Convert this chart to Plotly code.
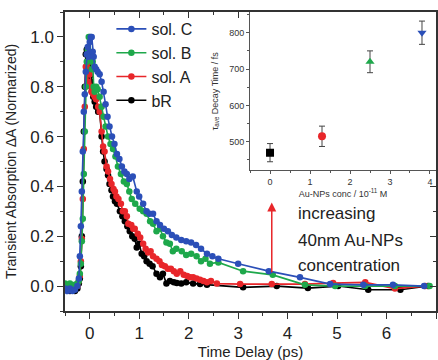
import plotly.graph_objects as go

# ---------------- main panel data ----------------
t_C = [-0.5,-0.45,-0.4,-0.35,-0.3,-0.25,-0.22,-0.2,-0.18,-0.16,
       -0.14,-0.12,-0.1,-0.08,-0.06,-0.04,-0.02,0.0,0.02,0.04,
       0.06,0.08,0.1,0.13,0.16,0.2,0.24,0.28,0.32,0.36,
       0.4,0.45,0.5,0.55,0.6,0.65,0.7,0.75,0.8,0.87,
       0.95,1.0,1.08,1.15,1.21,1.28,1.35,1.42,1.5,1.58,
       1.66,1.75,1.85,1.95,2.05,2.15,2.25,2.37,2.48,2.6,
       3.0,3.62,4.25,4.86,5.53,6.13,6.76]
y_C = [-0.01,-0.02,-0.01,-0.02,-0.015,0.0,0.03,0.12,0.24,0.38,
       0.54,0.70,0.77,0.86,0.93,0.96,0.92,0.98,1.0,1.0,
       0.94,0.92,0.88,0.87,0.86,0.85,0.82,0.78,0.73,0.68,
       0.64,0.60,0.57,0.53,0.51,0.48,0.46,0.45,0.43,0.44,
       0.38,0.36,0.33,0.30,0.29,0.29,0.26,0.245,0.23,0.22,
       0.205,0.195,0.185,0.18,0.175,0.165,0.15,0.13,0.12,0.11,
       0.09,0.06,0.035,0.008,0.005,0.005,0.0]

t_B = [-0.5,-0.45,-0.4,-0.35,-0.3,-0.25,-0.22,-0.2,-0.18,-0.16,
       -0.14,-0.12,-0.1,-0.08,-0.06,-0.04,-0.02,0.0,0.02,0.04,
       0.06,0.08,0.1,0.13,0.16,0.2,0.24,0.28,0.32,0.37,
       0.42,0.47,0.52,0.57,0.63,0.69,0.75,0.8,0.85,0.92,
       1.01,1.08,1.15,1.22,1.28,1.35,1.42,1.48,1.55,1.62,
       1.68,1.75,1.86,1.95,2.05,2.16,2.25,2.34,2.43,2.6,
       3.1,3.7,4.35,4.96,5.57,6.17,6.87]
y_B = [0.01,0.0,0.01,0.0,0.005,0.01,0.02,0.05,0.09,0.18,
       0.27,0.45,0.62,0.8,0.9,0.95,1.0,1.0,0.93,0.87,
       0.9,0.8,0.78,0.8,0.79,0.76,0.72,0.68,0.64,0.6,
       0.57,0.55,0.52,0.48,0.45,0.42,0.41,0.38,0.35,0.33,
       0.31,0.3,0.29,0.26,0.25,0.22,0.23,0.2,0.175,0.17,
       0.14,0.15,0.14,0.125,0.13,0.12,0.1,0.11,0.09,0.095,
       0.06,0.045,0.005,0.0,0.0,0.0,0.0]

t_A = [-0.5,-0.45,-0.4,-0.35,-0.3,-0.25,-0.22,-0.2,-0.18,-0.16,
       -0.14,-0.12,-0.1,-0.08,-0.06,-0.04,-0.02,0.0,0.02,0.04,
       0.07,0.1,0.13,0.17,0.2,0.24,0.27,0.3,0.34,0.37,
       0.41,0.44,0.48,0.51,0.54,0.58,0.63,0.67,0.71,0.75,
       0.78,0.84,0.88,0.91,0.97,1.02,1.08,1.13,1.18,1.23,
       1.28,1.35,1.41,1.46,1.52,1.58,1.64,1.7,1.76,1.83,
       1.9,1.97,2.03,2.09,2.16,2.23,2.3,2.37,2.45,2.57,
       3.04,3.68,4.35,4.92,5.57,6.17,6.78]
y_A = [0.0,-0.01,0.0,-0.015,-0.01,0.0,0.02,0.04,0.1,0.19,
       0.35,0.55,0.72,0.88,0.86,0.82,0.9,0.85,0.8,0.78,
       0.77,0.76,0.75,0.72,0.7,0.62,0.56,0.54,0.48,0.46,
       0.43,0.41,0.39,0.38,0.36,0.35,0.33,0.3,0.3,0.28,
       0.25,0.245,0.23,0.23,0.21,0.195,0.17,0.15,0.135,0.14,
       0.12,0.11,0.1,0.085,0.08,0.07,0.07,0.06,0.05,0.06,
       0.045,0.04,0.035,0.035,0.03,0.025,0.02,0.015,0.02,0.01,
       0.008,0.008,0.008,0.012,0.015,-0.01,0.0]

t_bR = [-0.5,-0.45,-0.4,-0.35,-0.3,-0.25,-0.22,-0.2,-0.18,-0.16,
        -0.14,-0.12,-0.1,-0.08,-0.06,-0.04,-0.02,0.0,0.02,0.04,
        0.07,0.1,0.13,0.17,0.2,0.24,0.27,0.3,0.34,0.37,
        0.4,0.44,0.47,0.51,0.55,0.61,0.66,0.71,0.76,0.81,
        0.86,0.91,0.95,1.0,1.05,1.1,1.15,1.21,1.27,1.35,
        1.42,1.48,1.55,1.62,1.7,1.76,1.85,1.95,2.09,2.23,
        2.37,3.1,3.78,4.41,5.02,5.63,6.28,6.84]
y_bR = [-0.01,0.0,-0.02,-0.01,-0.02,-0.01,0.01,0.03,0.08,0.2,
        0.42,0.62,0.8,0.93,0.95,0.9,0.88,0.84,0.82,0.78,
        0.76,0.74,0.72,0.7,0.7,0.6,0.54,0.5,0.47,0.445,
        0.41,0.385,0.36,0.34,0.33,0.3,0.28,0.26,0.24,0.22,
        0.2,0.19,0.155,0.17,0.13,0.12,0.1,0.09,0.08,0.05,
        0.035,0.05,0.01,0.02,0.015,0.012,0.01,0.015,0.01,0.008,
        0.005,-0.005,0.0,-0.008,0.0,-0.015,-0.015,0.0]

# ---------------- inset data ----------------
conc = [0.0, 1.3, 2.5, 3.8]
decay = [470, 515, 720, 800]
decay_err = [25, 28, 30, 32]

BLUE = "#2b4fb8"
GREEN = "#1ea84b"
RED = "#e8262a"
BLACK = "#000000"

series = [
    ("bR", t_bR, y_bR, BLACK),
    ("sol. A", t_A, y_A, RED),
    ("sol. B", t_B, y_B, GREEN),
    ("sol. C", t_C, y_C, BLUE),
]

fig = go.Figure()
for name, t, y, c in series:
    fig.add_trace(go.Scatter(
        x=t, y=y, name=name, mode="lines+markers",
        line=dict(color=c, width=1.6),
        marker=dict(color=c, size=6.5),
        xaxis="x", yaxis="y"))

# inset markers
inset_syms = ["square", "circle", "triangle-up", "triangle-down"]
inset_cols = [BLACK, RED, GREEN, BLUE]
for i in range(len(conc)):
    fig.add_trace(go.Scatter(
        x=[conc[i]], y=[decay[i]], mode="markers", showlegend=False,
        marker=dict(symbol=inset_syms[i], color=inset_cols[i], size=8),
        error_y=dict(type="data", array=[decay_err[i]], color="#444444",
                     thickness=1, width=3),
        xaxis="x2", yaxis="y2"))

# dummy trace for the mirrored (inside-tick) top/right axes
fig.add_trace(go.Scatter(x=[], y=[], xaxis="x3", yaxis="y3", showlegend=False))

font_family = "Liberation Sans, Arial, sans-serif"

fig.update_layout(
    width=438, height=360,
    margin=dict(l=65, r=2, t=12, b=46),
    plot_bgcolor="white", paper_bgcolor="white",
    font=dict(family=font_family, color="#222222"),
    showlegend=True,
    legend=dict(x=0.125, y=1.0, xanchor="left", yanchor="top",
                traceorder="reversed", font=dict(size=16, color="#222222"),
                bgcolor="rgba(0,0,0,0)", itemwidth=30, tracegroupgap=0),
    xaxis=dict(domain=[0, 1], range=[-0.5, 7], dtick=1, tick0=0,
               showgrid=False, zeroline=False, showline=True,
               linecolor="#333333", linewidth=1.5,
               ticks="outside", ticklen=6, tickwidth=1.2, tickcolor="#333333",
               minor=dict(dtick=0.5, ticks="outside", ticklen=3, tickcolor="#333333"),
               tickfont=dict(size=17),
               title=dict(text="Time Delay (ps)", font=dict(size=15), standoff=4),
               anchor="y"),
    yaxis=dict(domain=[0, 1], range=[-0.1, 1.1], dtick=0.2, tick0=0,
               tickformat=".1f",
               showgrid=False, zeroline=False, showline=True,
               linecolor="#333333", linewidth=1.5,
               ticks="outside", ticklen=6, tickwidth=1.2, tickcolor="#333333",
               minor=dict(dtick=0.1, ticks="outside", ticklen=3, tickcolor="#333333"),
               tickfont=dict(size=17),
               title=dict(text="Transient Absorption ΔA (Normarized)",
                          font=dict(size=14), standoff=10),
               anchor="x"),
    xaxis3=dict(overlaying="x", side="top", matches="x", range=[-0.5, 7],
                dtick=1, tick0=0, showticklabels=False, showgrid=False,
                zeroline=False, showline=True, linecolor="#333333", linewidth=1.5,
                ticks="inside", ticklen=6, tickwidth=1.2, tickcolor="#333333",
                minor=dict(dtick=0.5, ticks="inside", ticklen=3, tickcolor="#333333"),
                anchor="y3"),
    yaxis3=dict(overlaying="y", side="right", range=[-0.1, 1.1], dtick=0.2, tick0=0,
                showticklabels=False, showgrid=False, zeroline=False,
                showline=True, linecolor="#333333", linewidth=1.5,
                ticks="inside", ticklen=6, tickwidth=1.2, tickcolor="#333333",
                minor=dict(dtick=0.1, ticks="inside", ticklen=3, tickcolor="#333333"),
                anchor="x3"),
    xaxis2=dict(domain=[0.4987, 1.0], range=[-0.5, 4.15], dtick=1, tick0=0,
                showgrid=False, zeroline=False, showline=True,
                linecolor="#555555", linewidth=1,
                ticks="outside", ticklen=3, tickwidth=1, tickcolor="#555555",
                minor=dict(dtick=0.5, ticks="outside", ticklen=2, tickcolor="#555555"),
                tickfont=dict(size=9, color="#333333"),
                title=dict(text="Au-NPs conc / 10<sup>-11</sup> M",
                           font=dict(size=9, color="#333333"), standoff=2),
                anchor="y2"),
    yaxis2=dict(domain=[0.47, 1.0], range=[421, 857], dtick=100, tick0=0,
                showgrid=False, zeroline=False, showline=True,
                linecolor="#555555", linewidth=1,
                ticks="outside", ticklen=3, tickwidth=1, tickcolor="#555555",
                minor=dict(dtick=50, ticks="outside", ticklen=2, tickcolor="#555555"),
                tickfont=dict(size=9, color="#333333"),
                title=dict(text="τ<sub>ave</sub> Decay Time / fs",
                           font=dict(size=9, color="#333333"), standoff=9),
                anchor="x2"),
)

# red arrow
fig.add_annotation(x=3.68, y=0.335, ax=3.68, ay=0.05, xref="x", yref="y",
                   axref="x", ayref="y", text="", showarrow=True,
                   arrowhead=2, arrowsize=1.2, arrowwidth=1.5, arrowcolor=RED)

note_lines = ["increasing", "40nm Au-NPs", "concentration"]
note_y = [0.29, 0.183, 0.083]
for txt, yy in zip(note_lines, note_y):
    fig.add_annotation(x=4.17, y=yy, xref="x", yref="y", text=txt,
                       showarrow=False, xanchor="left", yanchor="middle",
                       font=dict(size=17, color="#222222"))

fig.write_html("out.html",
               config={"displayModeBar": False},
               post_script="document.body.style.margin='0px';document.body.style.overflow='hidden';")
